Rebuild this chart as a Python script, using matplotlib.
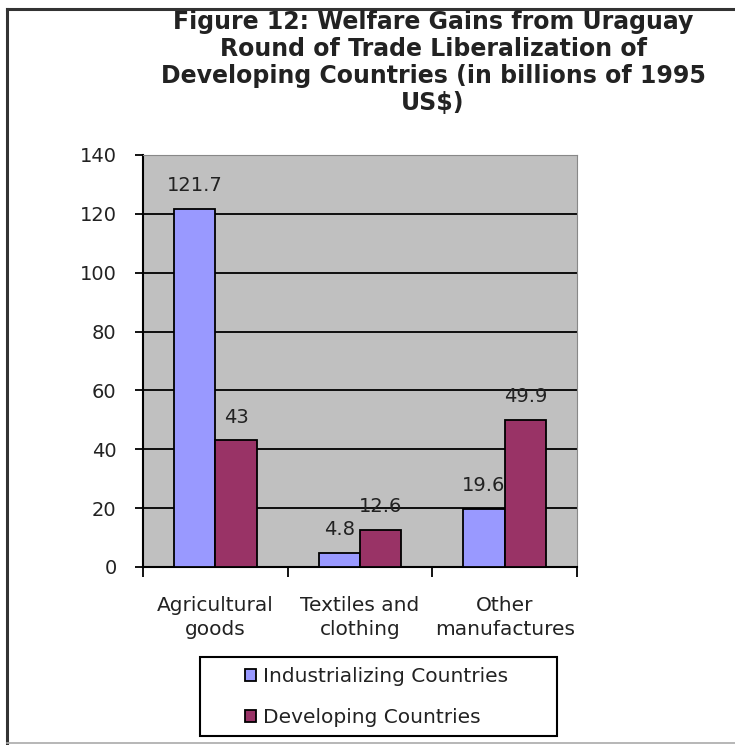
import matplotlib
matplotlib.use("Agg")
import matplotlib.pyplot as plt
import numpy as np
from matplotlib.patches import Rectangle
from matplotlib.lines import Line2D

categories = ["Agricultural\ngoods", "Textiles and\nclothing", "Other\nmanufactures"]
industrializing = [121.7, 4.8, 19.6]
developing = [43, 12.6, 49.9]
industrializing_labels = ["121.7", "4.8", "19.6"]
developing_labels = ["43", "12.6", "49.9"]
series_names = ["Industrializing Countries", "Developing Countries"]
yticks = [0, 20, 40, 60, 80, 100, 120, 140]
title = "Figure 12: Welfare Gains from Uraguay\nRound of Trade Liberalization of\nDeveloping Countries (in billions of 1995\nUS$)"

plt.rcParams['font.family'] = ['DejaVu Sans']
W, H = 735, 745
fig = plt.figure(figsize=(W/100, H/100), dpi=100)
fig.patch.set_facecolor("white")
txt = "#222222"

# outer frame
fig.add_artist(Line2D([7/W, 7/W], [1 - 9/H, 2/H], transform=fig.transFigure, color="#333333", lw=2.2))
fig.add_artist(Line2D([7/W, 1.0], [1 - 9/H, 1 - 9/H], transform=fig.transFigure, color="#333333", lw=2.2))
fig.add_artist(Line2D([7/W, 1.0], [2/H, 2/H], transform=fig.transFigure, color="#aaaaaa", lw=1.2))

left, right, top, bottom = 143, 577, 155, 567
ax = fig.add_axes([left/W, 1 - bottom/H, (right-left)/W, (bottom-top)/H])
ax.set_facecolor("#C0C0C0")

x = np.arange(len(categories))
w = 1/3.5
blue = "#9999FF"
maroon = "#993366"
b1 = ax.bar(x - w/2, industrializing, w, color=blue, edgecolor="black", linewidth=1.3, zorder=3, label=series_names[0])
b2 = ax.bar(x + w/2, developing, w, color=maroon, edgecolor="black", linewidth=1.3, zorder=3, label=series_names[1])

for xi, v, s in zip(x - w/2, industrializing, industrializing_labels):
    ax.annotate(s, (xi, v), xytext=(0, 10), textcoords="offset points", ha="center", va="bottom", fontsize=14, color=txt, zorder=4)
for xi, v, s in zip(x + w/2, developing, developing_labels):
    ax.annotate(s, (xi, v), xytext=(0, 10), textcoords="offset points", ha="center", va="bottom", fontsize=14, color=txt, zorder=4)

ax.set_xlim(-0.5, len(categories) - 0.5)
ax.set_ylim(0, 140)
ax.set_yticks(yticks)
ax.set_yticklabels([str(t) for t in yticks], fontsize=14, color=txt)
ax.yaxis.grid(True, color="black", linewidth=1.3, zorder=1)
ax.set_axisbelow(True)
ax.tick_params(axis="y", direction="out", length=6, width=1.3, pad=13)

ax.set_xticks(x)
ax.set_xticklabels(categories, fontsize=14.5, color=txt, linespacing=1.3)
ax.tick_params(axis="x", length=0, pad=21)
ax.set_xticks(np.arange(-0.5, len(categories)), minor=True)
ax.tick_params(axis="x", which="minor", direction="out", length=7, width=1.3)

for sp in ["top", "right"]:
    ax.spines[sp].set_color("#888888")
    ax.spines[sp].set_linewidth(0.8)
for sp in ["left", "bottom"]:
    ax.spines[sp].set_color("black")
    ax.spines[sp].set_linewidth(1.5)

fig.text(433/W, 1 - 62.5/H, title, ha="center", va="center", fontsize=17, fontweight="bold", color=txt, linespacing=1.17)

# legend box
fig.add_artist(Rectangle((200/W, 1 - 736/H), (557-200)/W, (736-657)/H, transform=fig.transFigure,
                         facecolor="white", edgecolor="black", linewidth=1.5, zorder=5))
leg = fig.legend(handles=[b1, b2], loc="upper left", bbox_to_anchor=(245/W, 1 - 667/H),
                 frameon=False, fontsize=14.5, handlelength=0.55, handleheight=0.55,
                 handletextpad=0.35, borderpad=0, labelspacing=1.1, borderaxespad=0)
leg.set_zorder(6)
for t in leg.get_texts():
    t.set_color(txt)

fig.savefig("out.png", dpi=100, facecolor="white")
